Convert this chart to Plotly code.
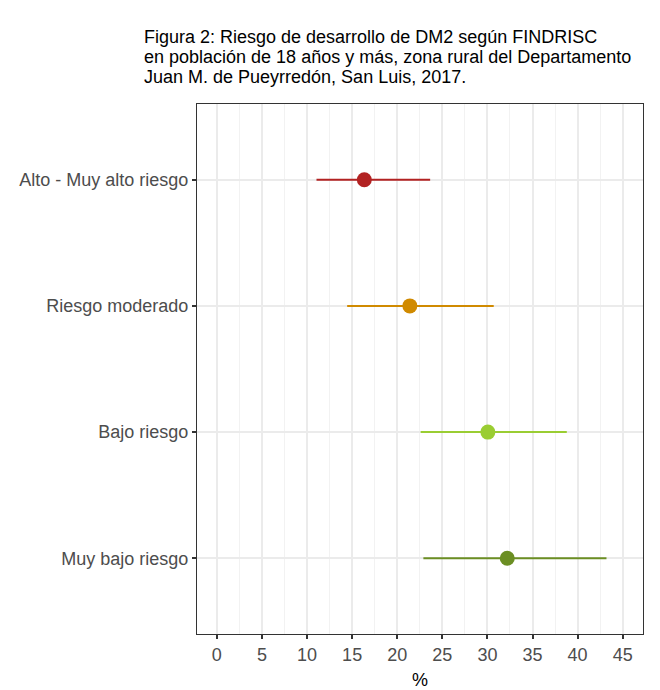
import plotly.graph_objects as go

categories = ["Muy bajo riesgo", "Bajo riesgo", "Riesgo moderado", "Alto - Muy alto riesgo"]
estimate = [32.2, 30.05, 21.4, 16.35]
lower = [22.9, 22.6, 14.45, 11.05]
upper = [43.2, 38.8, 30.7, 23.65]
colors = ["#6B8E23", "#9ACD32", "#D08A00", "#B22222"]
x_ticks = [0, 5, 10, 15, 20, 25, 30, 35, 40, 45]
title_lines = [
    "Figura 2: Riesgo de desarrollo de DM2 según FINDRISC",
    "en población de 18 años y más, zona rural del Departamento",
    "Juan M. de Pueyrredón, San Luis, 2017.",
]

fig = go.Figure()
for cat, est, lo, hi, col in zip(categories, estimate, lower, upper, colors):
    fig.add_trace(go.Scatter(
        x=[est], y=[cat], mode="markers",
        marker=dict(size=15, color=col),
        error_x=dict(type="data", symmetric=False, array=[hi - est], arrayminus=[est - lo],
                     color=col, thickness=2, width=0),
        showlegend=False,
    ))

# title lines placed at fixed pixel offsets above the plot area (top at 104px, height 530px)
for i, line in enumerate(title_lines):
    ypix = 37 + 20 * i
    fig.add_annotation(
        text=line, xref="paper", yref="paper",
        x=(142 - 197) / 446, y=(634 - ypix) / 530,
        xanchor="left", yanchor="middle", showarrow=False,
        font=dict(size=18, color="black", family="Liberation Sans, Arial, sans-serif"),
    )

fig.update_layout(
    width=660, height=690,
    margin=dict(l=197, r=17, t=104, b=56, autoexpand=False),
    plot_bgcolor="white", paper_bgcolor="white",
    font=dict(family="Liberation Sans, Arial, sans-serif", color="#4D4D4D", size=18),
    xaxis=dict(
        range=[-2.2, 47.25], tickvals=x_ticks, ticktext=[str(v) for v in x_ticks],
        showgrid=True, gridcolor="#EBEBEB", gridwidth=2,
        minor=dict(tick0=2.5, dtick=5, showgrid=True, gridcolor="#F2F2F2", gridwidth=1),
        ticks="outside", ticklen=4, tickcolor="#333333", tickwidth=2,
        showline=True, linecolor="#333333", linewidth=1, mirror=True,
        zeroline=False, automargin=False,
        title=dict(text="%", font=dict(size=18, color="black"), standoff=12),
        tickfont=dict(size=18, color="#4D4D4D"),
    ),
    yaxis=dict(
        type="category", categoryorder="array", categoryarray=categories,
        range=[-0.6, 3.6],
        showgrid=True, gridcolor="#EBEBEB", gridwidth=2,
        ticks="outside", ticklen=4, tickcolor="#333333", tickwidth=2,
        showline=True, linecolor="#333333", linewidth=1, mirror=True,
        zeroline=False, automargin=False,
        tickfont=dict(size=18, color="#4D4D4D"),
    ),
)

fig.write_html("out.html")
